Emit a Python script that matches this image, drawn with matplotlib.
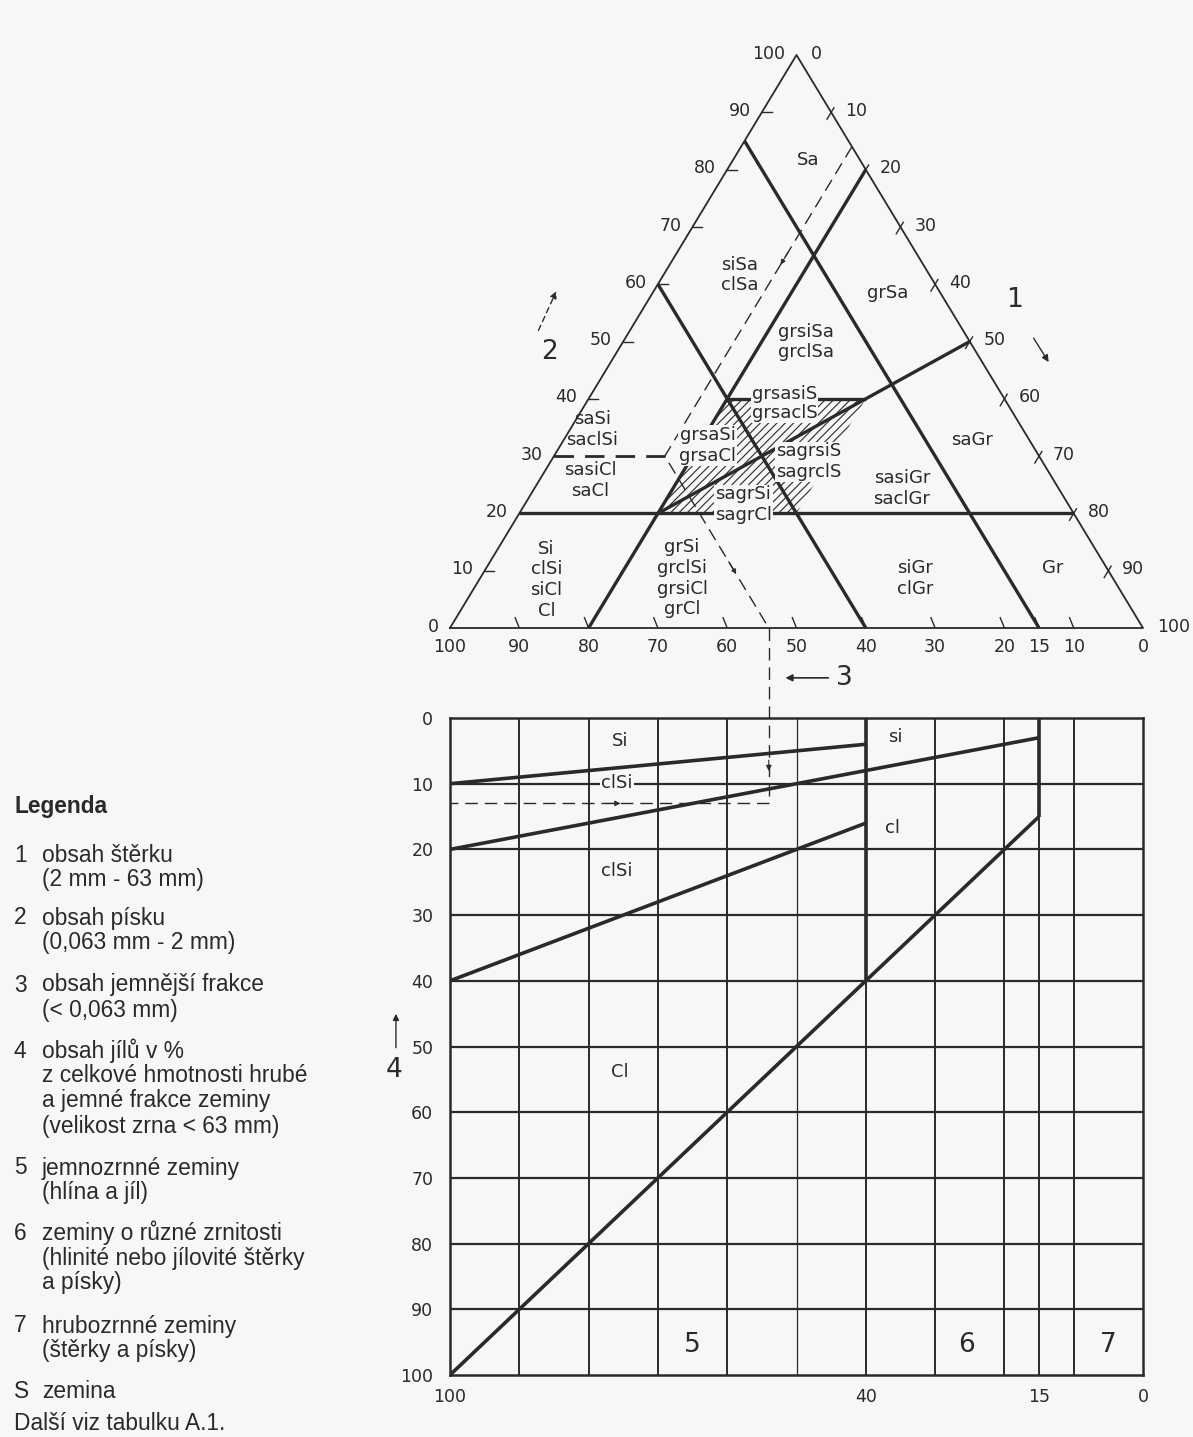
import matplotlib.pyplot as plt
from matplotlib.patches import Polygon

plt.rcParams['font.family'] = ['Liberation Sans Narrow', 'DejaVu Sans']
plt.rcParams['hatch.linewidth'] = 0.85

INK = '#2a2a2a'
PAPER = '#f7f7f5'

# --- ternary diagram: points as (fines, sand, gravel) in % ---
tern_ticks = [0, 10, 20, 30, 40, 50, 60, 70, 80, 90, 100]
bottom_ticks = [100, 90, 80, 70, 60, 50, 40, 30, 20, 15, 10, 0]

bold_lines = [
    [(15, 85, 0), (15, 0, 85)],
    [(40, 60, 0), (40, 0, 60)],
    [(0, 80, 20), (80, 0, 20)],
    [(80, 20, 0), (0, 20, 80)],
    [(60, 20, 20), (0, 50, 50)],
    [(40, 40, 20), (20, 40, 40)],
]
sand30_line = [(70, 30, 0), (54, 30, 16)]
example_path = [(0, 84, 16), (54, 30, 16), (54, 0, 46)]
example_marks = [((18, 66, 16), (21, 63, 16)), ((54, 12, 34), (54, 9, 37))]
hatched_zone = [(60, 20, 20), (40, 20, 40), (20, 40, 40), (40, 40, 20)]

region_labels = [
    ('Sa', 51.7, 81.7),
    ('siSa\nclSa', 41.8, 61.6),
    ('grSa', 63.2, 58.5),
    ('grsiSa\ngrclSa', 51.4, 49.9),
    ('saSi\nsaclSi', 20.5, 34.6),
    ('sasiCl\nsaCl', 20.2, 25.8),
    ('saGr', 75.3, 32.8),
    ('sasiGr\nsaclGr', 65.2, 24.3),
    ('Si\nclSi\nsiCl\nCl', 13.9, 8.4),
    ('grSi\ngrclSi\ngrsiCl\ngrCl', 33.5, 8.7),
    ('siGr\nclGr', 67.1, 8.7),
    ('Gr', 87.0, 10.5),
]
# labels sitting on top of lines / hatching
boxed_labels = [
    ('grsasiS', 48.3, 40.8),
    ('grsaclS', 48.3, 37.5),
    ('grsaSi\ngrsaCl', 37.2, 31.9),
    ('sagrsiS\nsagrclS', 51.7, 29.0),
    ('sagrSi\nsagrCl', 42.3, 21.5),
]

# --- lower chart: fines content (x) vs clay content (y) ---
grid_x = [90, 80, 70, 60, 50, 30, 20, 10]
grid_y = [10, 20, 30, 40, 50, 60, 70, 80, 90]
lower_xticks = [100, 40, 15, 0]
lower_yticks = [0, 10, 20, 30, 40, 50, 60, 70, 80, 90, 100]
lower_lines = [
    ([100, 40], [10, 4]),
    ([100, 15], [20, 3]),
    ([100, 40], [40, 16]),
    ([100, 15], [100, 15]),
    ([40, 40], [0, 40]),
    ([15, 15], [0, 15]),
]
example_fines = 54
example_clay = 13
lower_labels = [
    ('Si', 75.5, 3.5), ('si', 35.8, 2.9), ('cl', 36.1, 16.7),
    ('clSi', 75.9, 23.3), ('Cl', 75.5, 53.9),
]
group_labels = [('5', 65.1, 95.4), ('6', 25.4, 95.4), ('7', 5.0, 95.4)]

legend_items = [
    ('1', ['obsah štěrku', '(2 mm - 63 mm)']),
    ('2', ['obsah písku', '(0,063 mm - 2 mm)']),
    ('3', ['obsah jemnější frakce', '(< 0,063 mm)']),
    ('4', ['obsah jílů v %', 'z celkové hmotnosti hrubé',
           'a jemné frakce zeminy', '(velikost zrna < 63 mm)']),
    ('5', ['jemnozrnné zeminy', '(hlína a jíl)']),
    ('6', ['zeminy o různé zrnitosti', '(hlinité nebo jílovité štěrky',
           'a písky)']),
    ('7', ['hrubozrnné zeminy', '(štěrky a písky)']),
    ('S', ['zemina']),
]
legend_rows = [855, 918, 985, 1051, 1168, 1233, 1326, 1391]


def xy(p):
    f, s, g = p
    return g + s / 2.0, s


W, H = 1193, 1437
fig = plt.figure(figsize=(W / 100, H / 100), dpi=100, facecolor=PAPER)

# ---------------- triangle ----------------
tx = fig.add_axes([450 / W, 1 - 628 / H, 693 / W, 573 / H])
tx.set_xlim(0, 100)
tx.set_ylim(0, 100)
tx.axis('off')

outline = [xy(p) for p in [(100, 0, 0), (0, 0, 100), (0, 100, 0), (100, 0, 0)]]
tx.plot([p[0] for p in outline], [p[1] for p in outline], color=INK, lw=1.3,
        clip_on=False)

tx.add_patch(Polygon([xy(p) for p in hatched_zone], closed=True,
                     facecolor='none', edgecolor='#333333', lw=0,
                     hatch='////'))

for a, b in bold_lines:
    (x0, y0), (x1, y1) = xy(a), xy(b)
    tx.plot([x0, x1], [y0, y1], color=INK, lw=2.4, clip_on=False,
            solid_capstyle='butt')

(x0, y0), (x1, y1) = xy(sand30_line[0]), xy(sand30_line[1])
tx.plot([x0, x1], [y0, y1], color=INK, lw=2.0, dashes=(7, 4))

px = [xy(p)[0] for p in example_path]
py = [xy(p)[1] for p in example_path]
tx.plot(px, py, color=INK, lw=1.0, dashes=(9, 5), clip_on=False)
for a, b in example_marks:
    tx.annotate('', xy=xy(b), xytext=xy(a),
                arrowprops=dict(arrowstyle='-|>', color=INK, lw=0.8,
                                mutation_scale=7))

# edge ticks drawn along the iso-lines, then edge numbers
for v in tern_ticks[1:-1]:
    x, y = xy((100 - v, v, 0))          # sand, left edge
    tx.plot([x, x + 1.4], [y, y], color=INK, lw=1.0)
    x, y = xy((0, 100 - v, v))          # gravel, right edge
    tx.plot([x + 0.4, x - 0.6], [y + 0.8, y - 1.2], color=INK, lw=1.0)
for v in bottom_ticks[1:-1]:
    x, y = xy((v, 0, 100 - v))          # fines, bottom edge
    tx.plot([x, x - 0.6], [y, y + 1.8], color=INK, lw=1.0)

for v in tern_ticks:
    x, y = xy((100 - v, v, 0))
    tx.annotate(str(v), (x, y), xytext=(-8, 1), textcoords='offset points',
                ha='right', va='center', fontsize=12.5, color=INK)
    x, y = xy((0, 100 - v, v))
    tx.annotate(str(v), (x, y), xytext=(10, 1), textcoords='offset points',
                ha='left', va='center', fontsize=12.5, color=INK)
for v in bottom_ticks:
    x, y = xy((v, 0, 100 - v))
    tx.annotate(str(v), (x, y), xytext=(0, -7), textcoords='offset points',
                ha='center', va='top', fontsize=12.5, color=INK)

for txt, x, y in region_labels:
    tx.text(x, y, txt, ha='center', va='center', fontsize=13, color=INK,
            linespacing=1.2)
for txt, x, y in boxed_labels:
    tx.text(x, y, txt, ha='center', va='center', fontsize=13, color=INK,
            linespacing=1.2,
            bbox=dict(facecolor=PAPER, edgecolor='none', pad=0.6))

# axis callouts 1, 2, 3
tx.text(81.5, 57.2, '1', fontsize=19, ha='center', va='center', color=INK)
tx.annotate('', xy=(86.6, 46.0), xytext=(84.0, 51.0),
            arrowprops=dict(arrowstyle='-|>', color=INK, lw=1.0,
                            mutation_scale=10))
tx.text(14.4, 48.2, '2', fontsize=19, ha='center', va='center', color=INK)
tx.annotate('', xy=(15.5, 59.2), xytext=(12.6, 51.5),
            arrowprops=dict(arrowstyle='-|>', color=INK, lw=1.0,
                            linestyle=(0, (4, 3)), mutation_scale=10))
tx.text(56.9, -8.7, '3', fontsize=19, ha='center', va='center', color=INK)
tx.annotate('', xy=(48.0, -8.7), xytext=(55.0, -8.7),
            arrowprops=dict(arrowstyle='-|>', color=INK, lw=1.2,
                            mutation_scale=10), annotation_clip=False)

# ---------------- lower chart ----------------
lx = fig.add_axes([450 / W, 1 - 1375 / H, 693 / W, 657 / H])
lx.set_facecolor('none')
lx.set_xlim(100, 0)
lx.set_ylim(100, 0)
for sp in lx.spines.values():
    sp.set_linewidth(1.8)
    sp.set_color(INK)
lx.set_xticks(lower_xticks)
lx.set_xticklabels([str(v) for v in lower_xticks])
lx.set_yticks(lower_yticks)
lx.set_yticklabels([str(v) for v in lower_yticks])
lx.tick_params(length=0, labelsize=12.5, colors=INK)
lx.tick_params(axis='x', pad=9)
lx.tick_params(axis='y', pad=12)

for gx in grid_x:
    lx.axvline(gx, color=INK, lw=0.9 if gx == 50 else 1.4)
for gx in [40, 15]:
    lx.axvline(gx, color=INK, lw=1.4)
for gy in grid_y:
    lx.axhline(gy, color=INK, lw=1.6)

for xs, ys in lower_lines:
    lx.plot(xs, ys, color=INK, lw=2.6, solid_capstyle='butt')

# example reading carried down from the triangle
lx.plot([example_fines, example_fines, 100],
        [-13.7, example_clay, example_clay],
        color=INK, lw=1.0, dashes=(9, 5), clip_on=False)
lx.annotate('', xy=(example_fines, 8.5), xytext=(example_fines, 6.0),
            arrowprops=dict(arrowstyle='-|>', color=INK, lw=0.8,
                            mutation_scale=8))
lx.annotate('', xy=(75.0, example_clay), xytext=(78.0, example_clay),
            arrowprops=dict(arrowstyle='-|>', color=INK, lw=0.8,
                            mutation_scale=8))

for txt, x, y in lower_labels:
    lx.text(x, y, txt, ha='center', va='center', fontsize=13, color=INK)
lx.text(75.9, 9.9, 'clSi', ha='center', va='center', fontsize=13, color=INK,
        bbox=dict(facecolor=PAPER, edgecolor='none', pad=1.0))
for txt, x, y in group_labels:
    lx.text(x, y, txt, ha='center', va='center', fontsize=19, color=INK)

lx.text(108.0, 53.6, '4', fontsize=19, ha='center', va='center', color=INK,
        clip_on=False)
lx.annotate('', xy=(107.8, 44.6), xytext=(107.8, 50.6),
            arrowprops=dict(arrowstyle='-|>', color=INK, lw=1.0,
                            mutation_scale=9), annotation_clip=False)

# ---------------- legend text ----------------
lf = ['Liberation Sans', 'DejaVu Sans']
fs = 16.4
fig.text(14 / W, 1 - 806 / H, 'Legenda', fontsize=fs, fontweight='bold',
         family=lf, va='center', color=INK)
for (num, lines), row in zip(legend_items, legend_rows):
    fig.text(14 / W, 1 - row / H, num, fontsize=fs, family=lf,
             va='center', color=INK)
    for i, line in enumerate(lines):
        fig.text(42 / W, 1 - (row + 25 * i) / H, line, fontsize=fs,
                 family=lf, va='center', color=INK)
fig.text(14 / W, 1 - 1423 / H, 'Další viz tabulku A.1.', fontsize=fs,
         family=lf, va='center', color=INK)

fig.savefig('out.png', dpi=100, facecolor=PAPER)
